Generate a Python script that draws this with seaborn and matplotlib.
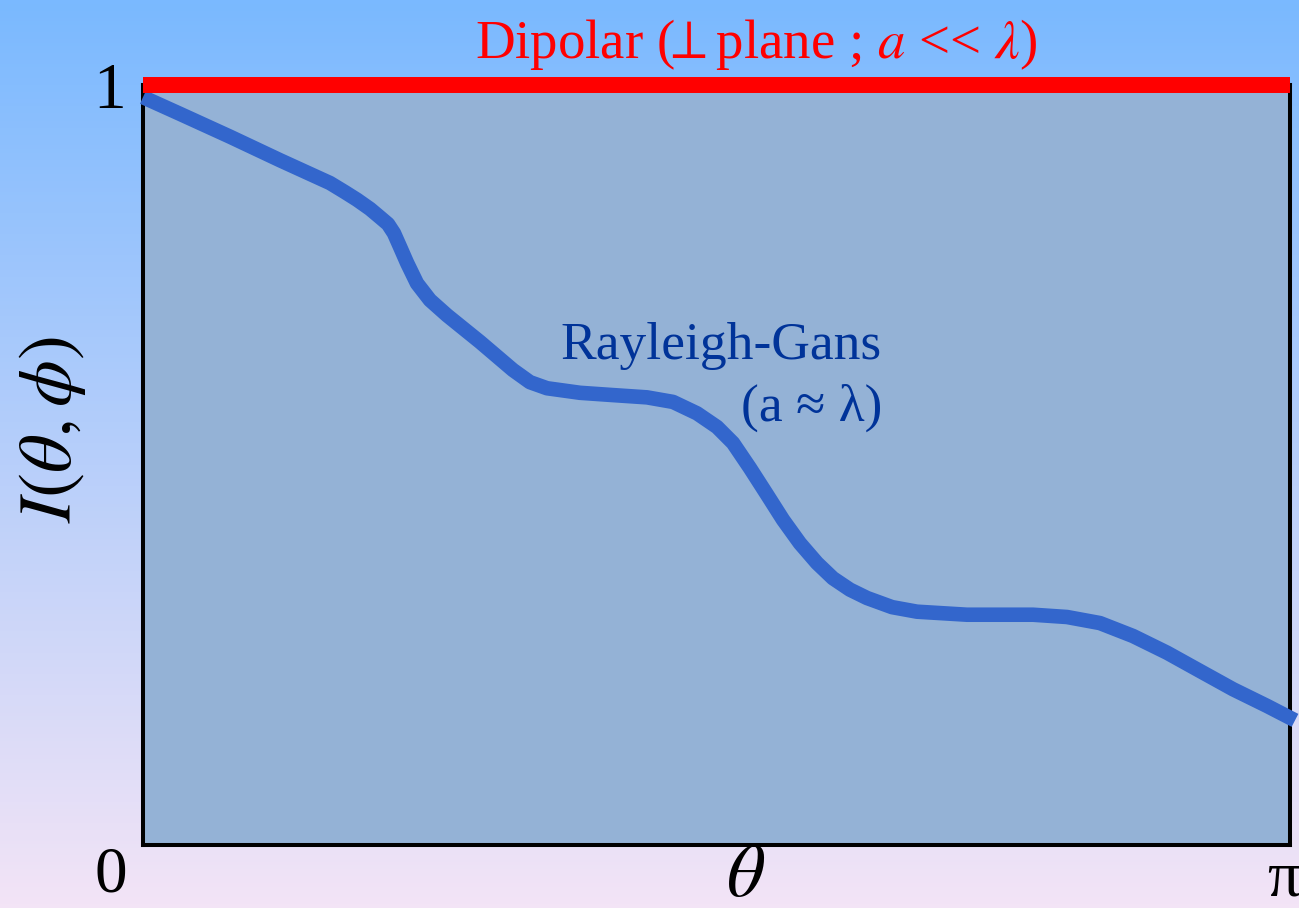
import numpy as np
import matplotlib
matplotlib.use("Agg")
import matplotlib.pyplot as plt
import seaborn as sns

# Scattering intensity versus angle (theta given as a fraction of pi)
theta_frac = [0.0, 0.0323, 0.0759, 0.1195, 0.1631, 0.1762, 0.1867, 0.1980,
              0.2067, 0.2137, 0.2189, 0.2242, 0.2303, 0.2390, 0.2503,
              0.2652, 0.2939, 0.3227, 0.3375, 0.3524, 0.3812, 0.4099,
              0.4396, 0.4623, 0.4832, 0.5007, 0.5146, 0.5294, 0.5443,
              0.5582, 0.5730, 0.5879, 0.6018, 0.6166, 0.6315, 0.6533,
              0.6751, 0.7187, 0.7763, 0.8059, 0.8347, 0.8635, 0.8932,
              0.9219, 0.9507, 0.9804, 1.0048]
rayleigh_gans = [0.984, 0.962, 0.932, 0.901, 0.871, 0.859, 0.849, 0.837,
                 0.826, 0.817, 0.805, 0.787, 0.766, 0.739, 0.717,
                 0.697, 0.662, 0.625, 0.609, 0.601, 0.595, 0.592,
                 0.589, 0.583, 0.568, 0.550, 0.529, 0.496, 0.461,
                 0.428, 0.397, 0.371, 0.351, 0.336, 0.325, 0.313,
                 0.307, 0.303, 0.303, 0.300, 0.292, 0.275, 0.253,
                 0.229, 0.205, 0.183, 0.164]
dipolar_theta = [0.0, 1.0]
dipolar = [1.0, 1.0]

title_text = r"Dipolar ($\!\!\perp\!\!$ plane ; $a$ << $\lambda$)"
curve_text = "Rayleigh-Gans"
curve_sub = "(a ≈ λ)"
y_label = r"$I(\theta,\phi)$"
x_label = r"$\theta$"
y_tick = "1"
x_tick = "π"
origin_label = "0"

W, H = 1299, 908
sns.set_style("white")
plt.rcParams["font.family"] = ["Liberation Serif", "DejaVu Serif", "DejaVu Sans"]
plt.rcParams["mathtext.fontset"] = "stix"

fig = plt.figure(figsize=(W / 100, H / 100), dpi=100)

# vertical gradient backdrop
bg = fig.add_axes([0, 0, 1, 1], zorder=-10)
top = np.array([122, 185, 255]) / 255
bot = np.array([243, 228, 246]) / 255
t = np.linspace(0, 1, 256)[:, None]
grad = (1 - t) * top + t * bot
bg.imshow(grad[:, None, :].repeat(2, axis=1), aspect="auto", extent=[0, 1, 0, 1])
bg.set_axis_off()


def fx(px):
    return px / W


def fy(py):
    return 1 - py / H


left, right, top_px, bottom_px = 143, 1289.5, 85, 845
ax = fig.add_axes([fx(left), fy(bottom_px), (right - left) / W, (bottom_px - top_px) / H])
ax.set_facecolor("#94b2d6")
ax.set_xlim(0, np.pi)
ax.set_ylim(0, 1)

theta = np.array(theta_frac) * np.pi
sns.lineplot(x=theta, y=rayleigh_gans, ax=ax, color="#3366cc", linewidth=10.5,
             estimator=None, sort=False, clip_on=False, solid_capstyle="butt",
             solid_joinstyle="round", zorder=3)
sns.lineplot(x=np.array(dipolar_theta) * np.pi, y=dipolar, ax=ax, color="#ff0000",
             linewidth=11.5, estimator=None, clip_on=False, solid_capstyle="butt",
             zorder=5)

for s in ax.spines.values():
    s.set_visible(True)
    s.set_color("black")
    s.set_linewidth(2.9)
ax.set_xticks([])
ax.set_yticks([])
ax.set_xlabel("")
ax.set_ylabel("")

# labels
fig.text(fx(756), fy(45), title_text, color="#ff0000", fontsize=39.5,
         ha="center", va="center")
fig.text(fx(882), fy(346), curve_text, color="#003399", fontsize=38.5,
         ha="right", va="center")
fig.text(fx(882), fy(408), curve_sub, color="#003399", fontsize=38.5,
         ha="right", va="center")
fig.text(fx(110), fy(92), y_tick, color="black", fontsize=47, ha="center", va="center")
fig.text(fx(111), fy(876), origin_label, color="black", fontsize=47, ha="center", va="center")
fig.text(fx(1284), fy(880), x_tick, color="black", fontsize=47, ha="center", va="center")
fig.text(fx(746), fy(878), x_label, color="black", fontsize=54, ha="center", va="center")
fig.text(fx(52), fy(430), y_label, color="black", fontsize=54, ha="center",
         va="center", rotation=90)

fig.savefig("out.png", dpi=100)
